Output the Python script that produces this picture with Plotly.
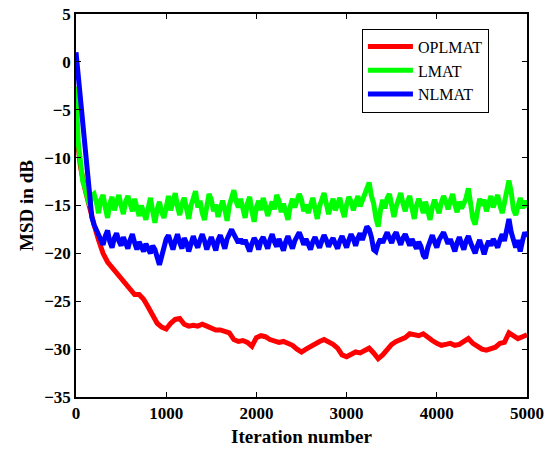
import numpy as np
import plotly.graph_objects as go

# Iteration grids
x_fine = list(range(0, 5001, 25))
x_coarse = list(range(0, 5001, 50))

# LMAT (green), every 25 iterations
lmat = [
    -2.6, -8.5, -10.5, -12.5, -13.2, -14.2, -15.0, -14.0, -13.8, -14.6,
    -15.8, -14.4, -13.9, -15.2, -16.3, -14.8, -14.1, -15.5, -14.5, -13.9,
    -15.0, -15.9, -14.6, -14.0, -14.8, -15.6, -14.3, -15.2, -16.1, -15.0,
    -15.8, -16.5, -15.3, -14.2, -15.6, -16.8, -15.4, -14.6, -15.7, -16.3,
    -15.2, -14.0, -15.5, -14.6, -13.7, -15.1, -16.0, -14.8, -14.2, -15.3,
    -16.4, -15.0, -14.1, -13.5, -15.2, -14.5, -15.8, -16.5, -15.1, -13.8,
    -14.4, -15.6, -14.9, -16.2, -15.3, -14.5, -15.4, -16.6, -15.0, -14.0,
    -13.4, -14.6, -15.2, -14.3, -15.5, -16.3, -14.8, -14.1, -15.6, -16.7,
    -15.2, -14.5, -15.5, -14.2, -15.0, -16.1, -15.3, -14.6, -15.4, -13.9,
    -14.5, -15.7, -14.8, -15.5, -16.5, -15.1, -14.3, -15.2, -14.6, -13.8,
    -14.4, -15.6, -14.9, -15.8, -15.0, -14.2, -15.3, -16.4, -15.1, -14.5,
    -13.7, -14.8, -15.9, -15.0, -14.3, -15.5, -14.8, -14.2, -15.4, -16.2,
    -14.9, -14.1, -14.6, -15.5, -14.7, -14.0, -15.1, -14.4, -13.8, -13.0,
    -12.6, -14.0, -14.8, -16.3, -17.2, -15.5, -14.4, -15.3, -14.2, -13.8,
    -14.9, -16.2, -15.1, -14.4, -13.7, -14.8, -15.6, -14.6, -14.0, -15.3,
    -16.4, -15.0, -14.3, -14.9, -15.8, -14.6, -15.4, -16.5, -15.2, -14.4,
    -15.1, -15.8, -14.7, -14.0, -14.6, -15.4, -14.5, -13.8, -14.9, -15.7,
    -14.6, -15.3, -14.8, -14.2, -13.2, -14.9, -16.4, -17.0, -15.3, -14.3,
    -15.0, -14.4, -15.6, -14.8, -14.0, -15.2, -14.5, -13.9, -15.0, -15.8,
    -14.7, -13.8, -12.4, -13.6, -15.4, -16.0, -14.9, -14.2, -15.3, -14.5,
    -15.2,
]

# NLMAT (blue), every 25 iterations
nlmat = [
    1.0, -1.5, -4.0, -6.5, -9.5, -12.3, -14.8, -16.2, -17.0, -17.6,
    -18.0, -18.5, -19.1, -18.2, -17.6, -18.8, -19.4, -18.4, -17.9, -18.7,
    -19.2, -18.3, -18.9, -19.5, -18.6, -18.0, -18.9, -19.6, -18.8, -19.3,
    -19.8, -19.0, -19.4, -20.0, -19.2, -19.6, -20.4, -21.2, -20.3, -19.2,
    -18.5, -18.1, -18.8, -19.6, -18.7, -18.0, -18.9, -19.5, -18.4, -18.9,
    -19.8, -18.8, -18.2, -18.9, -19.4, -18.6, -18.0, -18.7, -19.6, -18.9,
    -18.3, -19.0, -19.7, -18.6, -18.1, -18.8, -19.5, -18.5, -17.9, -17.5,
    -18.0, -18.4, -18.9, -18.5, -19.0, -18.6, -19.2, -19.8, -19.0, -18.4,
    -18.8, -19.6, -18.7, -18.3, -18.9, -19.5, -18.6, -18.0, -18.8, -19.3,
    -18.5, -19.0, -19.7, -18.8, -18.2, -18.9, -19.5, -18.7, -18.1, -17.8,
    -18.4, -19.1, -18.5, -19.0, -19.6, -18.8, -18.3, -18.9, -19.4, -18.7,
    -18.1, -18.6, -19.3, -18.8, -18.4, -19.0, -19.5, -18.7, -18.2, -18.8,
    -19.4, -18.6, -18.0, -18.5, -19.2, -18.4, -17.9, -18.6, -17.8, -17.2,
    -17.5, -18.3, -19.6, -19.8, -19.0, -18.5, -18.9, -18.3, -17.8, -18.4,
    -18.9, -18.2, -17.8, -18.5, -19.1, -18.4, -18.0, -18.6, -19.2, -18.5,
    -18.9, -19.5, -18.8, -19.3, -20.2, -20.5, -19.4, -18.6, -18.1, -18.8,
    -19.4, -18.6, -18.1, -17.8, -18.4, -19.0, -18.5, -19.1, -19.8, -18.9,
    -18.3, -19.0, -19.6, -18.7, -18.2, -18.9, -19.5, -20.0, -19.2, -18.6,
    -19.3, -20.1, -19.3, -18.7, -19.2, -18.5, -18.9, -19.4, -18.6, -18.0,
    -18.7, -17.6, -16.4, -17.8, -18.9, -19.4, -18.6, -19.8, -18.7, -17.8,
    -18.3,
]

# OPLMAT (red), every 50 iterations
oplmat = [
    -6.8, -11.0, -13.3, -15.3, -17.0, -18.6, -20.0, -20.9, -21.5, -22.0,
    -22.6, -23.2, -23.9, -24.3, -24.3, -24.8, -25.6, -26.4, -27.3, -27.7,
    -27.9, -27.3, -26.9, -26.8, -27.4, -27.6, -27.5, -27.6, -27.4, -27.6,
    -27.8, -28.0, -28.0, -28.2, -28.3, -29.0, -29.2, -29.1, -29.3, -29.7,
    -28.8, -28.6, -28.7, -29.0, -29.2, -29.3, -29.2, -29.4, -29.6, -30.0,
    -30.3, -30.0, -29.7, -29.4, -29.2, -29.0, -29.2, -29.5, -29.9, -30.6,
    -30.8, -30.5, -30.3, -30.4, -30.1, -29.9, -30.4, -31.0, -30.6, -30.0,
    -29.5, -29.2, -29.0, -28.8, -28.4, -28.5, -28.6, -28.4, -28.8, -29.1,
    -29.4, -29.6, -29.5, -29.4, -29.6, -29.5, -29.2, -28.9, -29.4, -29.7,
    -30.0, -30.1, -29.9, -29.8, -29.4, -29.3, -28.3, -28.6, -28.9, -28.7,
    -28.5,
]

series = [
    ("OPLMAT", x_coarse, oplmat, "#ff0000"),
    ("LMAT", x_fine, lmat, "#00ff00"),
    ("NLMAT", x_fine, nlmat, "#0000ff"),
]

FONT = "'Liberation Serif', 'Times New Roman', Times, serif"

fig = go.Figure()
for name, xs, ys, col in series:
    n = min(len(xs), len(ys))
    fig.add_trace(go.Scatter(x=xs[:n], y=ys[:n], mode="lines", name=name,
                             line=dict(color=col, width=5)))

axis_common = dict(
    showline=True, linecolor="black", linewidth=1.5, mirror="ticks",
    ticks="inside", ticklen=5, tickwidth=1, tickcolor="black",
    showgrid=False, zeroline=False, automargin=False,
    tickfont=dict(family=FONT, size=17, color="black", weight="bold"),
)

fig.update_layout(
    width=547, height=452,
    margin=dict(l=76, r=20, t=14, b=55),
    paper_bgcolor="white", plot_bgcolor="white",
    xaxis=dict(range=[0, 5000], tickvals=[0, 1000, 2000, 3000, 4000, 5000],
               title=dict(text="Iteration number", standoff=8,
                          font=dict(family=FONT, size=19, color="black", weight="bold")),
               **axis_common),
    yaxis=dict(range=[-35, 5], tickvals=list(range(-35, 6, 5)),
               title=dict(text="MSD in dB", standoff=6,
                          font=dict(family=FONT, size=19, color="black", weight="bold")),
               **axis_common),
    legend=dict(x=0.634, y=0.962, xanchor="left", yanchor="top",
                bgcolor="white", bordercolor="black", borderwidth=1,
                font=dict(family=FONT, size=16, color="black"),
                tracegroupgap=0, itemwidth=45),
    showlegend=True,
)

fig.write_html("out.html")
